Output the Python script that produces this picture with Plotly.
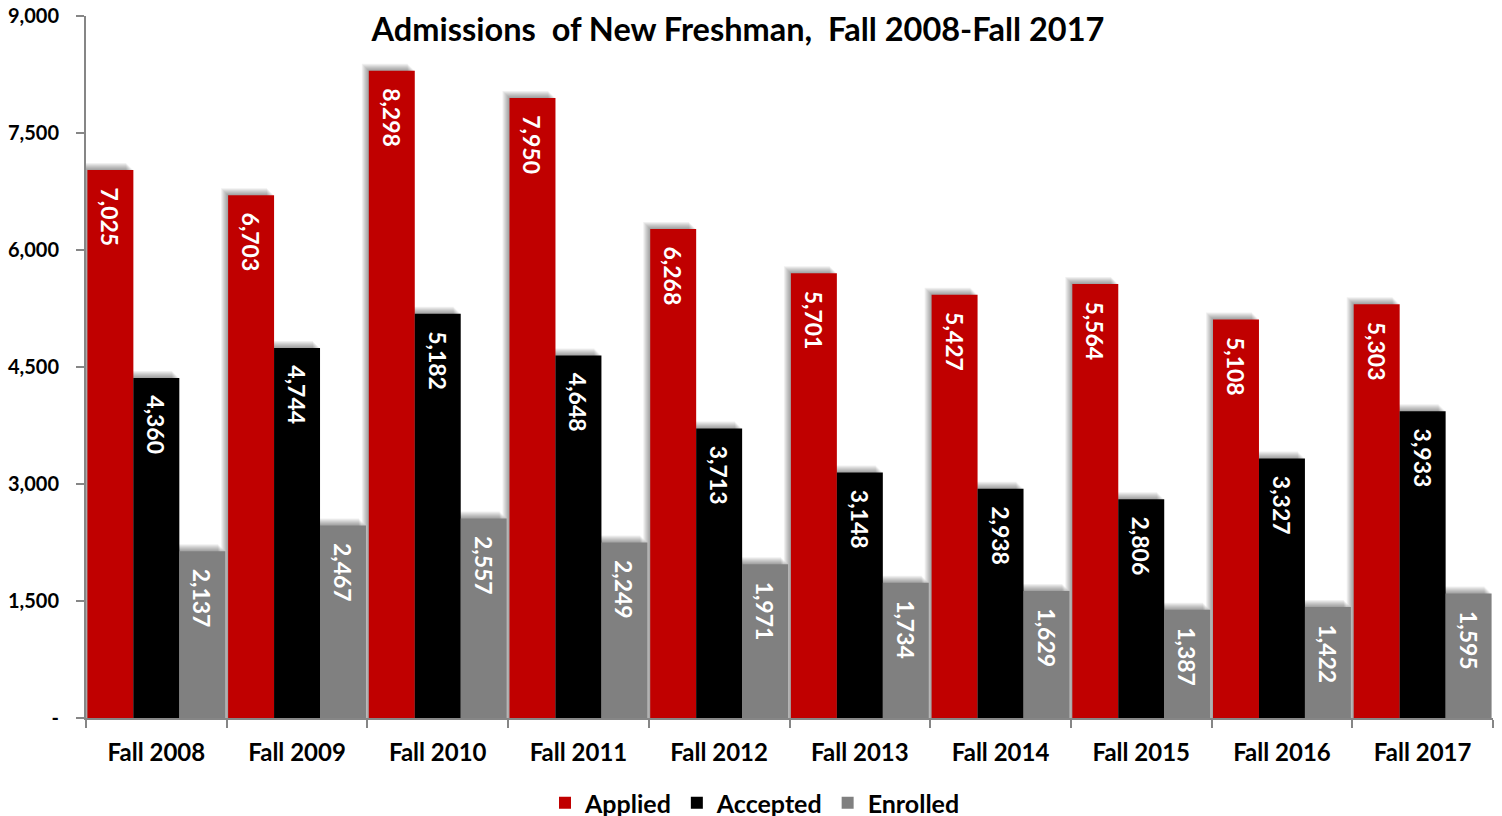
import plotly.graph_objects as go

categories = ["Fall 2008", "Fall 2009", "Fall 2010", "Fall 2011", "Fall 2012",
              "Fall 2013", "Fall 2014", "Fall 2015", "Fall 2016", "Fall 2017"]
applied = [7025, 6703, 8298, 7950, 6268, 5701, 5427, 5564, 5108, 5303]
accepted = [4360, 4744, 5182, 4648, 3713, 3148, 2938, 2806, 3327, 3933]
enrolled = [2137, 2467, 2557, 2249, 1971, 1734, 1629, 1387, 1422, 1595]
tick_vals = [0, 1500, 3000, 4500, 6000, 7500, 9000]
tick_text = ["-", "1,500", "3,000", "4,500", "6,000", "7,500", "9,000"]

FONT = "Lato, 'Open Sans', sans-serif"
W, H = 1502, 816
ML, MR, MT, MB = 86, 9, 16, 98
YMAX = 9000

series = [("Applied", applied, "#C00000"),
          ("Accepted", accepted, "#000000"),
          ("Enrolled", enrolled, "#808080")]

plot_w = W - ML - MR
plot_h = H - MT - MB
px_x = len(categories) / plot_w      # category units per pixel
px_y = YMAX / plot_h                 # value units per pixel

group_w = 0.98
bar_w = group_w / len(series)
offsets = [-group_w / 2 + i * bar_w for i in range(len(series))]

fig = go.Figure()

# soft drop shadow (up-left), built from layered translucent bars
for (name, vals, color), off in zip(series, offsets):
    for k in range(1, 8):
        fig.add_trace(go.Bar(
            x=categories, y=[v + k * px_y for v in vals],
            width=bar_w, offset=off - k * px_x,
            marker=dict(color="rgba(0,0,0,0.06)", line=dict(width=0)),
            showlegend=False, hoverinfo="skip",
        ))

for (name, vals, color), off in zip(series, offsets):
    fig.add_trace(go.Bar(
        name=f"<b>{name}</b>", x=categories, y=vals,
        width=bar_w, offset=off,
        marker=dict(color=color, line=dict(width=0)),
        text=[f"\u2002\u2009<b>{v:,}</b>" for v in vals],
        textposition="inside", insidetextanchor="end",
        textangle=90, constraintext="none",
        textfont=dict(color="white", size=23, family=FONT),
    ))

fig.update_layout(
    barmode="overlay",
    width=W, height=H,
    margin=dict(l=ML, r=MR, t=MT, b=MB, autoexpand=False),
    paper_bgcolor="white", plot_bgcolor="white",
    font=dict(family=FONT, color="black"),
    title=dict(text="<b>Admissions  of New Freshman,  Fall 2008-Fall 2017</b>",
               xref="container", x=738 / W, xanchor="center",
               yref="container", y=1 - 30 / H, yanchor="middle",
               font=dict(size=32.5, family=FONT, color="black")),
    legend=dict(orientation="h", x=755 / W, xanchor="center", xref="container",
                yref="container", y=13 / H, yanchor="middle",
                font=dict(size=25, family=FONT),
                itemwidth=30, traceorder="normal"),
    xaxis=dict(range=[-0.5, len(categories) - 0.5],
               showline=True, linecolor="#868686", linewidth=2,
               ticks="outside", tickson="boundaries", tickcolor="#868686",
               ticklen=8, tickwidth=1.5, automargin=False,
               tickvals=categories, ticktext=[f"<b>{c}</b>" for c in categories],
               ticklabelstandoff=12,
               tickfont=dict(size=24, family=FONT)),
    yaxis=dict(range=[0, YMAX], tickvals=tick_vals,
               ticktext=[f"<b>{t}</b>" for t in tick_text],
               showline=True, linecolor="#868686", linewidth=2,
               ticks="outside", tickcolor="#868686", ticklen=8, tickwidth=1.5,
               showgrid=False, zeroline=False, automargin=False,
               ticklabelstandoff=13, ticklabeloverflow="allow",
               tickfont=dict(size=20, family=FONT)),
)

fig.write_html("out.html",
               config={"displayModeBar": False},
               post_script="document.body.style.margin='0';document.body.style.overflow='hidden';")
